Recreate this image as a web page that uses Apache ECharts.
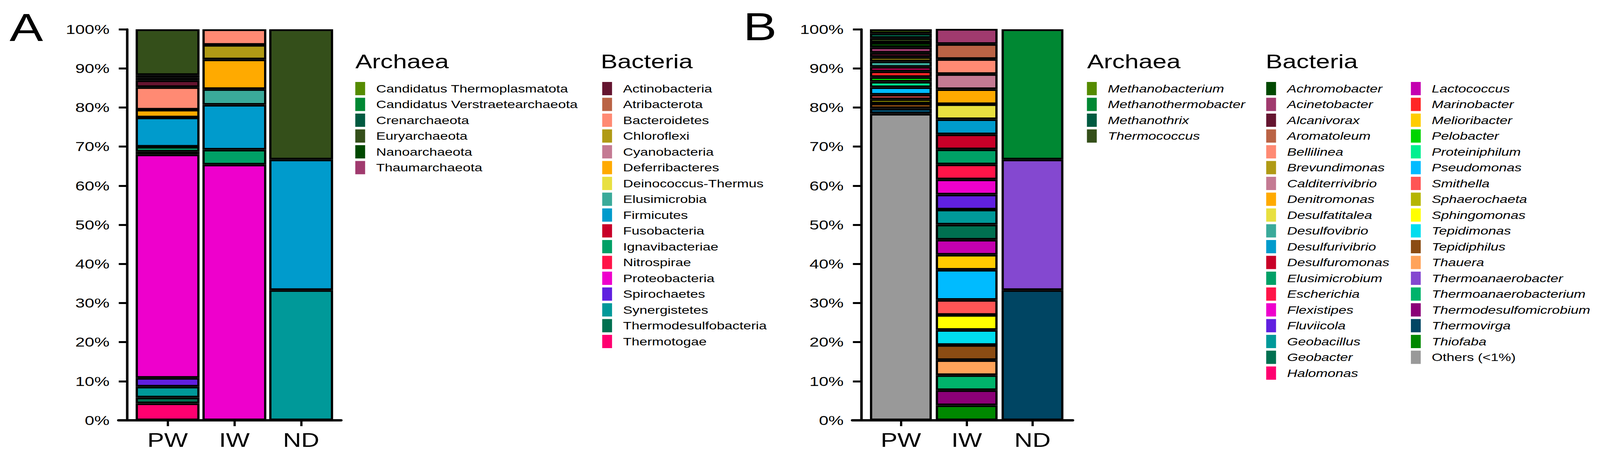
<!DOCTYPE html>
<html>
<head>
<meta charset="utf-8">
<script src="https://cdn.jsdelivr.net/npm/echarts@6/dist/echarts.min.js"></script>
<style>
  html, body { margin: 0; padding: 0; background: #ffffff; overflow: hidden; }
  #wrap { position: absolute; left: 0; top: 0; overflow: hidden; }
  #chart { position: absolute; left: 0; top: 0; width: 3188px; height: 1171px; transform-origin: 0 0; }
</style>
</head>
<body>
<div id="wrap"><div id="chart"></div></div>
<script>
// ---------------- DATA ----------------
const samples = ['PW', 'IW', 'ND'];

// Panel A : phylum level
const phylaArchaea = ['Candidatus Thermoplasmatota', 'Candidatus Verstraetearchaeota', 'Crenarchaeota',
  'Euryarchaeota', 'Nanoarchaeota', 'Thaumarchaeota'];
const phylaBacteria = ['Actinobacteria', 'Atribacterota', 'Bacteroidetes', 'Chloroflexi', 'Cyanobacteria',
  'Deferribacteres', 'Deinococcus-Thermus', 'Elusimicrobia', 'Firmicutes', 'Fusobacteria', 'Ignavibacteriae',
  'Nitrospirae', 'Proteobacteria', 'Spirochaetes', 'Synergistetes', 'Thermodesulfobacteria', 'Thermotogae'];
const phylaArchaeaColors = ['#558B00', '#008833', '#005A40', '#344F1A', '#004800', '#A03A6E'];
const phylaBacteriaColors = ['#651530', '#BA6345', '#FF8A73', '#B09A15', '#C47A93', '#FFAA00', '#E8E040',
  '#3AAA9A', '#009BCC', '#C80028', '#00A066', '#FF1448', '#EE00CC', '#6020E0', '#009999', '#007050', '#FF0070'];
// relative abundance (%), archaea then bacteria, in legend order
const phylaPW = [0, 0, 0, 11.7, 0.75, 0.6,
  1.75, 0, 5.75, 0, 0, 2.0, 0, 0, 7.5, 0, 1.25, 0.7, 57.14, 2.26, 2.77, 1.5, 4.33];
const phylaIW = [0, 0, 0, 0, 0, 0,
  0, 0, 4.0, 3.7, 0, 7.6, 0, 4.0, 11.5, 0, 3.8, 0, 65.4, 0, 0, 0, 0];
const phylaND = [0, 0, 0, 33.3, 0, 0,
  0, 0, 0, 0, 0, 0, 0, 0, 33.4, 0, 0, 0, 0, 0, 33.3, 0, 0];

// Panel B : genus level
const generaArchaea = ['Methanobacterium', 'Methanothermobacter', 'Methanothrix', 'Thermococcus'];
const generaBacteria1 = ['Achromobacter', 'Acinetobacter', 'Alcanivorax', 'Aromatoleum', 'Bellilinea',
  'Brevundimonas', 'Calditerrivibrio', 'Denitromonas', 'Desulfatitalea', 'Desulfovibrio', 'Desulfurivibrio',
  'Desulfuromonas', 'Elusimicrobium', 'Escherichia', 'Flexistipes', 'Fluviicola', 'Geobacillus', 'Geobacter',
  'Halomonas'];
const generaBacteria2 = ['Lactococcus', 'Marinobacter', 'Melioribacter', 'Pelobacter', 'Proteiniphilum',
  'Pseudomonas', 'Smithella', 'Sphaerochaeta', 'Sphingomonas', 'Tepidimonas', 'Tepidiphilus', 'Thauera',
  'Thermoanaerobacter', 'Thermoanaerobacterium', 'Thermodesulfomicrobium', 'Thermovirga', 'Thiofaba',
  'Others (<1%)'];
const generaArchaeaColors = ['#558B00', '#008833', '#005A40', '#344F1A'];
const generaBacteria1Colors = ['#004800', '#A03A6E', '#651530', '#BA6345', '#FF8A73', '#B09A15', '#C47A93',
  '#FFAA00', '#E8E040', '#3AAA9A', '#009BCC', '#C80028', '#00A066', '#FF1448', '#EE00CC', '#6020E0',
  '#009999', '#007050', '#FF0070'];
const generaBacteria2Colors = ['#C400B0', '#FF2525', '#FFCC00', '#00D400', '#00F090', '#00BBFF', '#FF5555',
  '#B5B500', '#FFFF00', '#00DDEE', '#8B4C13', '#FFA35A', '#8448D0', '#00B36B', '#8B0077', '#004563',
  '#008800', '#999999'];
// relative abundance (%), archaea, bacteria column 1, bacteria column 2
const generaPW = [1.03, 0, 1.24, 1.13,
  1.22, 1.40, 1.10, 0, 0, 1.10, 0, 0, 0, 1.40, 0, 0, 0, 0, 0, 0, 0, 0, 1.14,
  0, 1.46, 0, 1.20, 1.40, 1.93, 1.13, 1.07, 0, 0, 1.26, 0, 0, 0, 0, 1.40, 0, 78.39];
const generaIW = [0, 0, 0, 0,
  0, 3.85, 0, 3.85, 3.85, 0, 3.85, 3.85, 3.85, 0, 3.85, 3.85, 3.85, 3.85, 3.85, 3.85, 3.85, 3.85, 0,
  3.85, 0, 3.85, 0, 0, 7.69, 3.85, 0, 3.85, 3.85, 3.85, 3.85, 0, 3.85, 3.85, 0, 3.85, 0];
const generaND = [0, 33.3, 0, 0,
  0, 0, 0, 0, 0, 0, 0, 0, 0, 0, 0, 0, 0, 0, 0, 0, 0, 0, 0,
  0, 0, 0, 0, 0, 0, 0, 0, 0, 0, 0, 0, 33.4, 0, 0, 33.3, 0, 0];

// ---------------- LAYOUT (designed for 4400 x 1171, drawn 1.38x narrower then stretched) ----------------
const DESIGN_W = 4400, DESIGN_H = 1171, STRETCH = 4400 / 3188;
const vw = window.innerWidth || DESIGN_W, vh = window.innerHeight || DESIGN_H;
const sx = vw / DESIGN_W, sy = vh / DESIGN_H;
const wrap = document.getElementById('wrap');
wrap.style.width = vw + 'px';
wrap.style.height = vh + 'px';
const chartDiv = document.getElementById('chart');
chartDiv.style.transform = 'scale(' + (STRETCH * sx) + ',' + sy + ')';

const FONT = "'Liberation Sans', Arial, Helvetica, sans-serif";

function buildSeries(names, colors, rows, axisIndex, stackId, barWidth) {
  const out = [];
  for (let i = names.length - 1; i >= 0; i--) {
    out.push({
      type: 'bar',
      name: names[i],
      xAxisIndex: axisIndex,
      yAxisIndex: axisIndex,
      stack: stackId,
      barWidth: barWidth,
      itemStyle: { color: colors[i], borderColor: '#000000', borderWidth: 4.5 },
      emphasis: { disabled: true },
      data: rows.map(row => (row[i] > 0 ? row[i] : '-'))
    });
  }
  return out;
}

const namesA = phylaArchaea.concat(phylaBacteria);
const colorsA = phylaArchaeaColors.concat(phylaBacteriaColors);
const namesB = generaArchaea.concat(generaBacteria1, generaBacteria2);
const colorsB = generaArchaeaColors.concat(generaBacteria1Colors, generaBacteria2Colors);

const seriesA = buildSeries(namesA, colorsA, [phylaPW, phylaIW, phylaND], 0, 'A', 127.3);
const seriesB = buildSeries(namesB, colorsB, [generaPW, generaIW, generaND], 1, 'B', 123.2);

function xAxisCat(gridIndex) {
  return {
    type: 'category', gridIndex: gridIndex, data: samples,
    axisLine: { show: false },
    axisTick: { show: true, alignWithLabel: true, length: 15, lineStyle: { color: '#000', width: 4.5 } },
    axisLabel: { margin: 26, fontSize: 50, color: '#000', fontFamily: FONT }
  };
}
function xAxisFrame(gridIndex) {
  return {
    type: 'value', gridIndex: gridIndex, min: 0, max: 1,
    splitLine: { show: false }, axisTick: { show: false }, axisLabel: { show: false },
    axisLine: { show: true, onZero: false, lineStyle: { color: '#000', width: 6 } }
  };
}
function yAxisDef(gridIndex, offset) {
  return {
    type: 'value', gridIndex: gridIndex, min: 0, max: 100, interval: 10, offset: offset,
    splitLine: { show: false },
    axisLine: { show: true, onZero: false, lineStyle: { color: '#000', width: 5 } },
    axisTick: { show: true, length: 17, lineStyle: { color: '#000', width: 5 } },
    axisLabel: { margin: 35.5, fontSize: 34, color: '#000', fontFamily: FONT, formatter: '{value}%' }
  };
}
function yAxisHidden(gridIndex) {
  return { type: 'value', gridIndex: gridIndex, min: 0, max: 100, show: false, splitLine: { show: false } };
}

function legendDef(left, names, italic) {
  return {
    orient: 'vertical', left: left, top: 210, padding: 0,
    icon: 'rect', itemWidth: 19.6, itemHeight: 34, itemGap: 6.5,
    selectedMode: false,
    itemStyle: { borderWidth: 0 },
    textStyle: {
      fontSize: 28, color: '#000', fontFamily: FONT, padding: [0, 0, 0, 17],
      fontStyle: italic ? 'italic' : 'normal'
    },
    data: names.map(n => (italic && n.indexOf('Others') === 0)
      ? { name: n, textStyle: { fontStyle: 'normal' } } : n)
  };
}

function titleDef(text, left, top, size) {
  return {
    text: text, left: left, top: top, padding: 0,
    textStyle: { fontSize: size, fontWeight: 'normal', color: '#000', fontFamily: FONT }
  };
}

const chart = echarts.init(chartDiv, null, { renderer: 'svg', width: 3188, height: 1171 });
chart.setOption({
  backgroundColor: '#ffffff',
  animation: false,
  title: [
    titleDef('A', 19, 20, 100),
    titleDef('B', 1481, 18, 100),
    titleDef('Archaea', 708, 133, 50),
    titleDef('Bacteria', 1197, 133, 50),
    titleDef('Archaea', 2166, 133, 50),
    titleDef('Bacteria', 2522, 133, 50)
  ],
  legend: [
    legendDef(707.9, phylaArchaea, false),
    legendDef(1199.9, phylaBacteria, false),
    legendDef(2165.7, generaArchaea, true),
    legendDef(2522.9, generaBacteria1, true),
    legendDef(2811.2, generaBacteria2, true)
  ],
  grid: [
    { left: 267.4, width: 399.2, top: 75, height: 1002 },   // A bars
    { left: 1729.4, width: 393.4, top: 75, height: 1002 },  // B bars
    { left: 236.2, width: 443.4, top: 75, height: 1002 },   // A axis frame
    { left: 1698.3, width: 439.1, top: 75, height: 1002 }   // B axis frame
  ],
  xAxis: [xAxisCat(0), xAxisCat(1), xAxisFrame(2), xAxisFrame(3)],
  yAxis: [yAxisDef(0, 13.8), yAxisDef(1, 13.0), yAxisHidden(2), yAxisHidden(3)],
  series: seriesA.concat(seriesB)
});
</script>
</body>
</html>
